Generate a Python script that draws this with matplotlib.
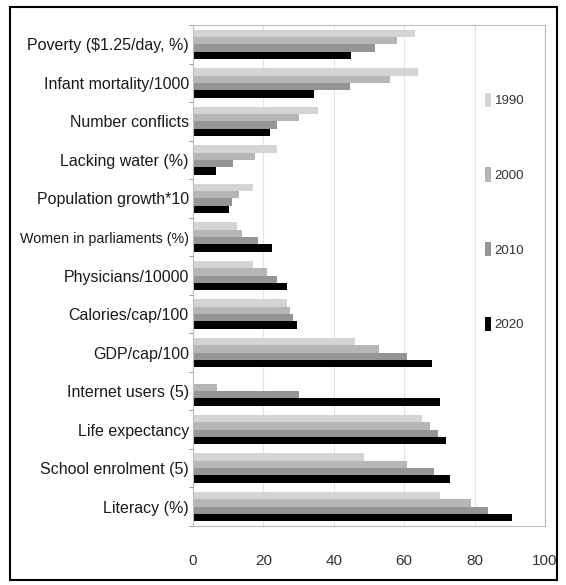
import matplotlib
matplotlib.use("Agg")
import matplotlib.pyplot as plt
import numpy as np
from matplotlib.patches import Rectangle

categories = ["Poverty ($1.25/day, %)", "Infant mortality/1000", "Number conflicts",
              "Lacking water (%)", "Population growth*10", "Women in parliaments (%)",
              "Physicians/10000", "Calories/cap/100", "GDP/cap/100", "Internet users (5)",
              "Life expectancy", "School enrolment (5)", "Literacy (%)"]
years = ["1990", "2000", "2010", "2020"]
v1990 = [63, 64, 35.6, 24, 17, 12.4, 16.9, 26.6, 46, 0, 65, 48.6, 70.2]
v2000 = [58, 56, 30, 17.6, 13, 13.8, 20.9, 27.5, 52.8, 6.8, 67.3, 60.7, 79]
v2010 = [51.7, 44.6, 24, 11.5, 11.2, 18.5, 24, 28.5, 60.7, 30, 69.6, 68.5, 83.9]
v2020 = [45, 34.4, 21.9, 6.4, 10.2, 22.5, 26.8, 29.6, 68, 70.2, 72, 73, 90.5]
xticks = [0, 20, 40, 60, 80, 100]

series = [v1990, v2000, v2010, v2020]
colors = ["#d4d4d4", "#b6b6b6", "#959595", "#000000"]

plt.rcParams['font.family'] = ["Liberation Sans", "DejaVu Sans"]

fig = plt.figure(figsize=(5.66, 5.85), dpi=100)
ax = fig.add_axes([0.341, 0.101, 0.622, 0.856])

n = len(categories)
ypos = np.arange(n)
h = 0.19
offsets = [-1.5 * h, -0.5 * h, 0.5 * h, 1.5 * h]
handles = []
for vals, c, off, yr in zip(series, colors, offsets, years):
    b = ax.barh(ypos + off, vals, height=h, color=c, label=yr, linewidth=0)
    handles.append(b)

ax.set_ylim(n - 0.5, -0.5)
ax.set_xlim(0, 100)
ax.set_xticks(xticks)
ax.set_xticklabels([str(t) for t in xticks], fontsize=11, color="#333333")
ax.set_yticks(ypos)
ax.set_yticklabels(categories, fontsize=11.5, color="#1a1a1a")
for lab in ax.get_yticklabels():
    if lab.get_text().startswith("Women"):
        lab.set_fontsize(10.3)
ax.tick_params(axis='y', length=0, pad=3)
ax.tick_params(axis='x', length=0, pad=20)
ax.set_yticks(np.arange(-0.5, n, 1.0), minor=True)
ax.tick_params(axis='y', which='minor', length=3, color="#888888")
ax.xaxis.grid(True, color="#e2e2e2", linewidth=0.8)
ax.set_axisbelow(True)
for s in ax.spines.values():
    s.set_color("#bbbbbb")
    s.set_linewidth(0.8)

leg = ax.legend(handles=handles, loc="center", bbox_to_anchor=(0.885, 0.627),
                frameon=False, fontsize=9.5, handlelength=0.5, handleheight=1.3,
                handletextpad=0.25, labelspacing=4.55)
for t in leg.get_texts():
    t.set_color("#333333")

fig.patches.append(Rectangle((10 / 566, 1 - 580 / 585), 547 / 566, 573 / 585,
                             transform=fig.transFigure, fill=False,
                             edgecolor="black", linewidth=1.5))

fig.savefig("out.png", dpi=100)
